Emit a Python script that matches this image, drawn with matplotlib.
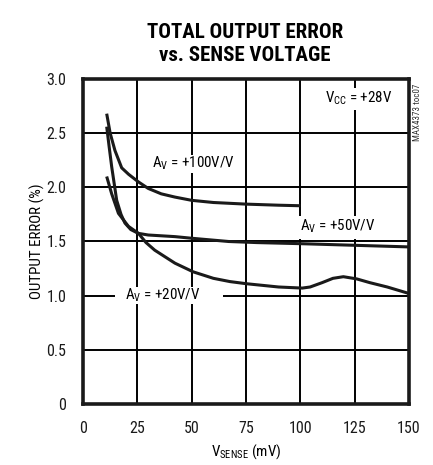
import matplotlib
matplotlib.use("Agg")
import matplotlib.pyplot as plt
from matplotlib import font_manager
from matplotlib.patches import Rectangle

names = {f.name for f in font_manager.fontManager.ttflist}
narrow = "Roboto Condensed" if "Roboto Condensed" in names else "DejaVu Sans"
plt.rcParams['font.family'] = [narrow, 'DejaVu Sans']
plt.rcParams['mathtext.fontset'] = 'custom'
plt.rcParams['mathtext.rm'] = narrow
plt.rcParams['mathtext.it'] = narrow

# data (V_SENSE in mV, output error in %)
x100 = [10.9, 12.5, 14.7, 17.8, 21, 25.5, 30, 36, 42.3, 50, 60, 75, 90, 100]
y100 = [2.68, 2.50, 2.34, 2.18, 2.12, 2.05, 1.99, 1.94, 1.91, 1.88, 1.86, 1.845, 1.835, 1.83]

x50 = [10.9, 12.0, 13.2, 15.5, 17.5, 19.3, 22, 25.5, 30, 42.3, 50, 67, 80, 100, 125, 150]
y50 = [2.56, 2.38, 2.19, 1.88, 1.75, 1.67, 1.61, 1.575, 1.56, 1.545, 1.53, 1.50, 1.49, 1.48, 1.465, 1.45]

x20 = [10.9, 13.2, 16.3, 20.9, 25.5, 29, 33, 42.3, 50.7, 60, 67.6, 75.3, 90, 100.9, 104.5, 110,
       115, 119.8, 125.9, 132, 140, 150]
y20 = [2.10, 1.94, 1.76, 1.64, 1.575, 1.49, 1.42, 1.30, 1.22, 1.16, 1.13, 1.11, 1.08, 1.07, 1.08,
       1.12, 1.16, 1.175, 1.155, 1.12, 1.08, 1.02]

xticks = [0, 25, 50, 75, 100, 125, 150]
yticks = [0, 0.5, 1.0, 1.5, 2.0, 2.5, 3.0]
yticklabels = ["0", "0.5", "1.0", "1.5", "2.0", "2.5", "3.0"]

fig = plt.figure(figsize=(4.33, 4.65), dpi=100)
ax = fig.add_axes([83/433, 1-404/465, 326/433, 325/465])

ax.set_xlim(0, 150)
ax.set_ylim(0, 3.0)
ax.set_xticks(xticks)
ax.set_yticks(yticks)
ax.set_yticklabels(yticklabels)
ax.grid(True, which='major', axis='both', color='black', linewidth=1.4, linestyle='-')
ax.set_axisbelow(True)
ax.tick_params(length=0, labelsize=11.5, labelcolor='#1a1a1a', pad=12)

for xs, ys in [(x100, y100), (x50, y50), (x20, y20)]:
    ax.plot(xs, ys, color='#1a1a1a', lw=2.2, solid_capstyle='butt', zorder=3)

for s in ax.spines.values():
    s.set_linewidth(2.6)
    s.set_color('#1a1a1a')
    s.set_zorder(4)

# white knock-outs behind the labels (x0, y0, width, height in data units)
for (rx, ry, rw, rh) in [(29.5, 2.13, 43.0, 0.17), (109.0, 2.71, 36.0, 0.21),
                         (97.0, 1.52, 39.0, 0.215), (14.7, 0.92, 49.7, 0.16)]:
    ax.add_patch(Rectangle((rx, ry), rw, rh, facecolor='white', edgecolor='none', zorder=2))

fs = 10.8
ax.text(51, 2.22, r"A$_\mathregular{V}$ = +100V/V", ha='center', va='center', fontsize=fs, zorder=2.5)
ax.text(127, 2.82, r"V$_\mathregular{CC}$ = +28V", ha='center', va='center', fontsize=fs, zorder=2.5)
ax.text(117, 1.64, r"A$_\mathregular{V}$ = +50V/V", ha='center', va='center', fontsize=fs, zorder=2.5)
ax.text(36.6, 1.0, r"A$_\mathregular{V}$ = +20V/V", ha='center', va='center', fontsize=fs, zorder=2.5)

ax.set_xlabel(r"V$_\mathregular{SENSE}$ (mV)", fontsize=fs, labelpad=5)
ax.set_ylabel("OUTPUT ERROR (%)", fontsize=fs, labelpad=1)

fig.text(245/433, 1-44/465, "TOTAL OUTPUT ERROR\nvs. SENSE VOLTAGE", ha='center', va='center',
         fontsize=15, fontweight='bold', linespacing=1.3)
fig.text(418/433, 1-112/465, "MAX4373 toc07", rotation=90, ha='center', va='center', fontsize=6.5, color='#333333')

fig.savefig("out.png", dpi=100)
